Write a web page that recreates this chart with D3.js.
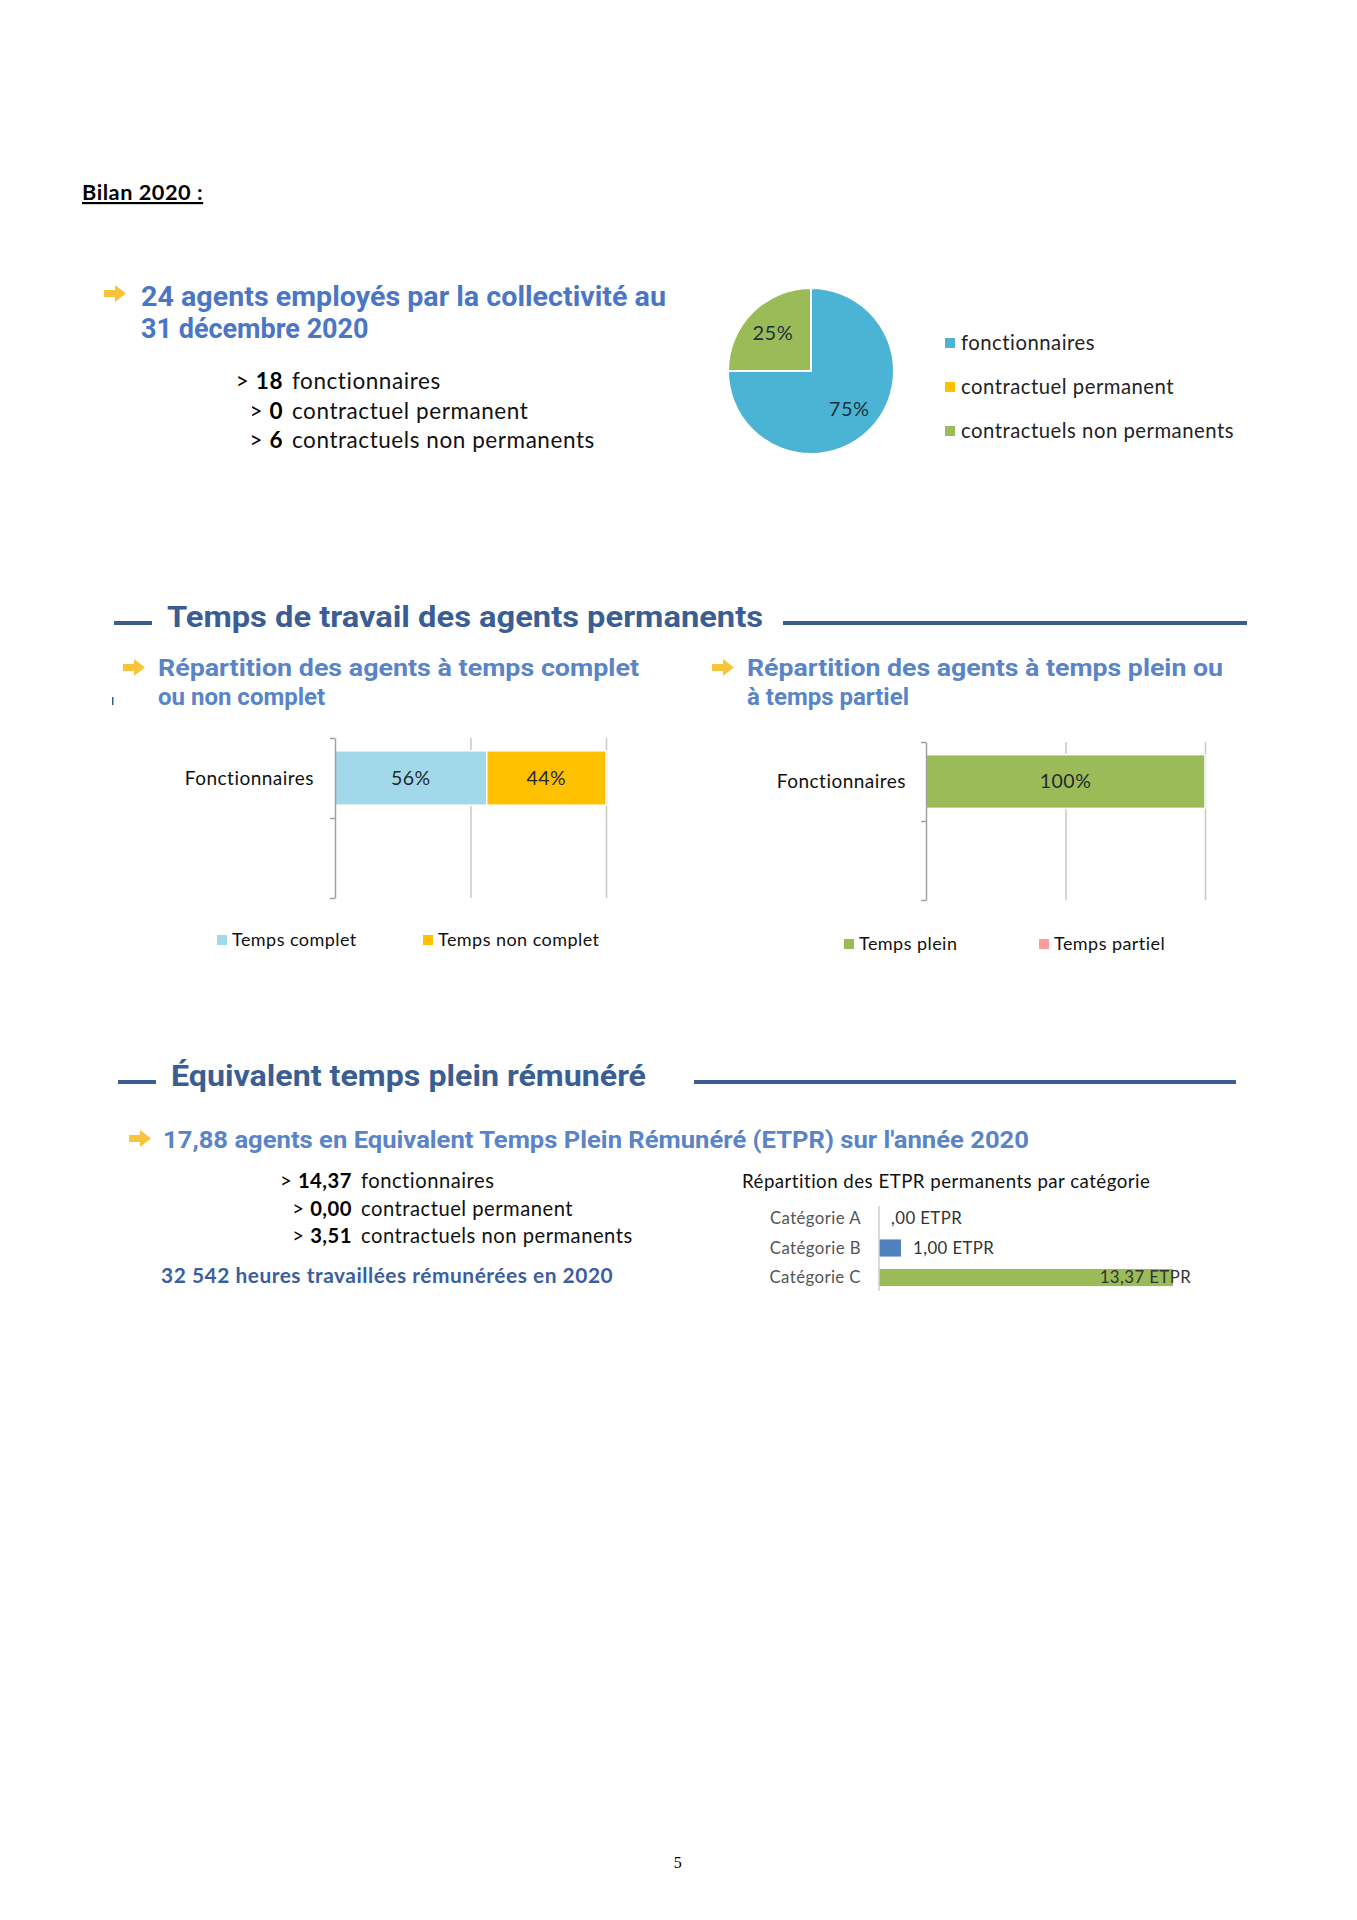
<!DOCTYPE html>
<html>
<head>
<meta charset="utf-8">
<script src="https://cdn.jsdelivr.net/npm/d3@7"></script>
<style>
  body { margin: 0; background: #fff; }
  text { font-family: Lato, "Open Sans", sans-serif; letter-spacing: 0.025em; }
  .head { font-family: Roboto, sans-serif; font-weight: 700; letter-spacing: 0; }
</style>
</head>
<body>
<div id="page"></div>
<script>
// data read from the page
const effectifLabels = ["fonctionnaires", "contractuel permanent", "contractuels non permanents"];
const effectifValues = [18, 0, 6];

const tempsCats = ["Fonctionnaires", ""];
const completSeries = ["Temps complet", "Temps non complet"];
const completValues = [[0.56, 0.44], [0, 0]];
const pleinSeries = ["Temps plein", "Temps partiel"];
const pleinValues = [[1.0, 0], [0, 0]];

const etprLabels = ["fonctionnaires", "contractuel permanent", "contractuels non permanents"];
const etprValues = ["14,37", "0,00", "3,51"];
const etprCats = ["Catégorie A", "Catégorie B", "Catégorie C"];
const etprCatValues = [0, 1.00, 13.37];
const etprCatText = [",00 ETPR", "1,00 ETPR", "13,37 ETPR"];

const pieColors = ["#4bb3d4", "#ffc000", "#9bbb59"];
const blueHead = "#4b76c4";
const darkBlue = "#3a5e93";
const subBlue = "#5a84c8";

const svg = d3.select("#page")
  .append("svg")
    .attr("width", 1357)
    .attr("height", 1920);

svg.append("rect").attr("width", 1357).attr("height", 1920).attr("fill", "#fff");

// yellow block arrow used before each heading
function arrow(x, y) {
  svg.append("path")
    .attr("transform", `translate(${x},${y})`)
    .attr("d", "M0,5 H11 V0 L22,8.5 L11,17 V12 H0 Z")
    .attr("fill", "#f8c53a");
}

function headLine(x, y, lines, size, color, w) {
  lines.forEach((t, i) => {
    const el = svg.append("text")
      .attr("class", "head")
      .attr("x", x)
      .attr("y", y + i * size * 1.2)
      .attr("fill", color)
      .style("font-size", size + "px")
      .text(t);
    if (i === 0 && w) el.attr("textLength", w).attr("lengthAdjust", "spacingAndGlyphs");
  });
}

// section banner: short dash, title, long rule
function section(y, title, x0, tw, lineStart, lineEnd) {
  svg.append("rect").attr("x", x0).attr("y", y - 2).attr("width", 38).attr("height", 4).attr("fill", darkBlue);
  svg.append("text")
    .attr("class", "head")
    .attr("x", x0 + 53)
    .attr("y", y + 4)
    .attr("fill", darkBlue)
    .attr("textLength", tw)
    .attr("lengthAdjust", "spacingAndGlyphs")
    .style("font-size", "30px")
    .text(title);
  svg.append("rect").attr("x", lineStart).attr("y", y - 2).attr("width", lineEnd - lineStart).attr("height", 4).attr("fill", darkBlue);
}

// Bilan title
svg.append("text")
  .attr("x", 82).attr("y", 200)
  .style("font-size", "21.7px")
  .style("font-weight", 700)
  .style("text-decoration", "underline")
  .text("Bilan 2020 :");

// ---------- effectifs ----------
arrow(104, 285);
headLine(141, 306, ["24 agents employés par la collectivité au", "31 décembre 2020"], 27, blueHead, 525);

const listY = d3.scalePoint().domain(effectifLabels).range([389, 448]);
effectifLabels.forEach((lab, i) => {
  const t = svg.append("text")
    .attr("x", 283).attr("y", listY(lab))
    .attr("text-anchor", "end")
    .style("font-size", "22.5px");
  t.append("tspan").text("> ");
  t.append("tspan").style("font-weight", 700).text(effectifValues[i]);
  svg.append("text")
    .attr("x", 292).attr("y", listY(lab))
    .style("font-size", "22.5px")
    .attr("fill", "#111")
    .text(lab);
});

// pie
const pie = d3.pie().sort(null)(effectifValues);
const arc = d3.arc().innerRadius(0).outerRadius(83);
const pieG = svg.append("g").attr("transform", "translate(811,371)");
pieG.selectAll("path")
  .data(pie)
  .join("path")
    .attr("d", arc)
    .attr("fill", (d, i) => pieColors[i])
    .attr("stroke", "#fff")
    .attr("stroke-width", 2);
const labArc = d3.arc().innerRadius(54).outerRadius(54);
pieG.selectAll("text")
  .data(pie.filter(d => d.value > 0))
  .join("text")
    .attr("transform", d => {
      const c = labArc.centroid(d);
      return `translate(${c[0]},${c[1]})`;
    })
    .attr("text-anchor", "middle")
    .attr("dy", "0.35em")
    .attr("fill", "#1b3240")
    .style("font-size", "20px")
    .text(d => Math.round(d.value / d3.sum(effectifValues) * 100) + "%");

const legY = d3.scalePoint().domain(effectifLabels).range([343, 431]);
effectifLabels.forEach((lab, i) => {
  svg.append("rect").attr("x", 945).attr("y", legY(lab) - 5).attr("width", 10).attr("height", 10).attr("fill", pieColors[i]);
  svg.append("text").attr("x", 961).attr("y", legY(lab)).attr("dy", "0.35em")
    .style("font-size", "20.3px").attr("fill", "#222").text(lab);
});

// ---------- temps de travail ----------
section(623, "Temps de travail des agents permanents", 114, 596, 783, 1247);
svg.append("rect").attr("x", 112).attr("y", 697).attr("width", 1.5).attr("height", 8).attr("fill", darkBlue);

arrow(123, 659);
headLine(158, 676, ["Répartition des agents à temps complet", "ou non complet"], 24, subBlue, 481);
arrow(712, 659);
headLine(747, 676, ["Répartition des agents à temps plein ou", "à temps partiel"], 24, subBlue, 476);

function stackedBar(opt) {
  const x = d3.scaleLinear().domain([0, 1]).range([opt.x0, opt.x1]);
  const y = d3.scaleBand().domain(tempsCats).range([opt.y0, opt.y1]).paddingInner(0.32).paddingOuter(0.16);
  const edge = d3.scaleLinear().domain([0, tempsCats.length]).range([opt.y0, opt.y1]);

  // gridlines
  svg.append("g")
    .attr("transform", `translate(0,${opt.y1})`)
    .call(d3.axisBottom(x).tickValues([0.5, 1]).tickSize(-(opt.y1 - opt.y0)).tickFormat(""))
    .call(g => g.select(".domain").remove())
    .call(g => g.selectAll("line").attr("stroke", "#c8c8c8").attr("stroke-width", 1.5));

  const rows = tempsCats.map((c, i) => {
    const r = { cat: c };
    opt.series.forEach((s, j) => r[s] = opt.values[i][j]);
    return r;
  });
  const stacked = d3.stack().keys(opt.series)(rows);
  stacked.forEach((layer, j) => {
    layer.forEach(d => {
      if (d[1] - d[0] <= 0) return;
      svg.append("rect")
        .attr("x", x(d[0]))
        .attr("y", y(d.data.cat))
        .attr("width", x(d[1]) - x(d[0]))
        .attr("height", y.bandwidth())
        .attr("fill", opt.colors[j])
        .attr("stroke", "#fff")
        .attr("stroke-width", 1.5);
      svg.append("text")
        .attr("x", (x(d[0]) + x(d[1])) / 2)
        .attr("y", y(d.data.cat) + y.bandwidth() / 2)
        .attr("dy", "0.35em")
        .attr("text-anchor", "middle")
        .attr("fill", "#1e2a30")
        .style("font-size", "19.5px")
        .text(Math.round((d[1] - d[0]) * 100) + "%");
    });
  });

  // category axis
  svg.append("g")
    .attr("transform", `translate(${opt.x0},0)`)
    .call(d3.axisLeft(edge).tickValues(d3.range(tempsCats.length + 1)).tickSize(5).tickSizeOuter(0).tickFormat(""))
    .call(g => g.selectAll("line, path").attr("stroke", "#a0a0a0").attr("stroke-width", 1.5));
  tempsCats.forEach(c => {
    svg.append("text")
      .attr("x", opt.labelX)
      .attr("y", y(c) + y.bandwidth() / 2)
      .attr("dy", "0.35em")
      .attr("text-anchor", "end")
      .attr("fill", "#111")
      .style("font-size", "19px")
      .text(c);
  });

  opt.series.forEach((s, j) => {
    svg.append("rect").attr("x", opt.legX[j]).attr("y", opt.legY - 5).attr("width", 10).attr("height", 10).attr("fill", opt.colors[j]);
    svg.append("text").attr("x", opt.legX[j] + 15).attr("y", opt.legY).attr("dy", "0.35em")
      .style("font-size", "18px").attr("fill", "#111").text(s);
  });
}

stackedBar({
  series: completSeries, values: completValues, colors: ["#a2d9ea", "#ffc000"],
  x0: 335, x1: 606, y0: 738, y1: 898, labelX: 314, legX: [217, 423], legY: 940
});
stackedBar({
  series: pleinSeries, values: pleinValues, colors: ["#9bbb59", "#ff9b9b"],
  x0: 926, x1: 1205, y0: 742, y1: 900, labelX: 906, legX: [844, 1039], legY: 944
});

// ---------- ETPR ----------
section(1082, "Équivalent temps plein rémunéré", 118, 475, 694, 1236);
arrow(129, 1130);
headLine(163, 1148, ["17,88 agents en Equivalent Temps Plein Rémunéré (ETPR) sur l'année 2020"], 24, subBlue, 866);

const etprY = d3.scalePoint().domain(etprLabels).range([1188, 1243]);
etprLabels.forEach((lab, i) => {
  const t = svg.append("text")
    .attr("x", 352).attr("y", etprY(lab))
    .attr("text-anchor", "end")
    .style("font-size", "20.2px");
  t.append("tspan").text("> ");
  t.append("tspan").style("font-weight", 700).text(etprValues[i]);
  svg.append("text")
    .attr("x", 361).attr("y", etprY(lab))
    .style("font-size", "20.2px")
    .attr("fill", "#111")
    .text(lab);
});

svg.append("text")
  .attr("x", 161).attr("y", 1283)
  .attr("fill", "#3a5ea0")
  .style("font-size", "20.9px")
  .style("font-weight", 700)
  .text("32 542 heures travaillées rémunérées en 2020");

svg.append("text")
  .attr("x", 742).attr("y", 1188)
  .attr("fill", "#111")
  .style("font-size", "18.7px")
  .text("Répartition des ETPR permanents par catégorie");

const ex = d3.scaleLinear().domain([0, 14]).range([879, 1187]);
const ey = d3.scaleBand().domain(etprCats).range([1204, 1292]).paddingInner(0.42).paddingOuter(0.2);
const etprColors = ["#4f81bd", "#4f81bd", "#9bbb59"];

svg.selectAll(".ebar")
  .data(etprCats)
  .join("rect")
    .attr("class", "ebar")
    .attr("x", ex(0))
    .attr("y", d => ey(d))
    .attr("width", (d, i) => ex(etprCatValues[i]) - ex(0))
    .attr("height", ey.bandwidth())
    .attr("fill", (d, i) => etprColors[i]);

svg.append("g")
  .attr("transform", `translate(${ex(0)},0)`)
  .call(d3.axisLeft(ey).tickSize(0).tickFormat(""))
  .call(g => g.select(".domain").attr("stroke", "#cfcfcf").attr("stroke-width", 1.5)
    .attr("d", "M0,1206V1291"));

etprCats.forEach((c, i) => {
  svg.append("text")
    .attr("x", 861).attr("y", ey(c) + ey.bandwidth() / 2).attr("dy", "0.35em")
    .attr("text-anchor", "end")
    .attr("fill", "#555")
    .style("font-size", "16.8px")
    .text(c);
  const last = i === etprCats.length - 1;
  svg.append("text")
    .attr("x", last ? ex(etprCatValues[i]) + 18 : ex(etprCatValues[i]) + 12)
    .attr("y", ey(c) + ey.bandwidth() / 2).attr("dy", "0.35em")
    .attr("text-anchor", last ? "end" : "start")
    .attr("fill", "#333")
    .style("font-size", "16.8px")
    .text(etprCatText[i]);
});

// page number
svg.append("text")
  .attr("x", 678).attr("y", 1868)
  .attr("text-anchor", "middle")
  .style("font-family", "'Liberation Serif', serif")
  .style("font-size", "16px")
  .text("5");
</script>
</body>
</html>
